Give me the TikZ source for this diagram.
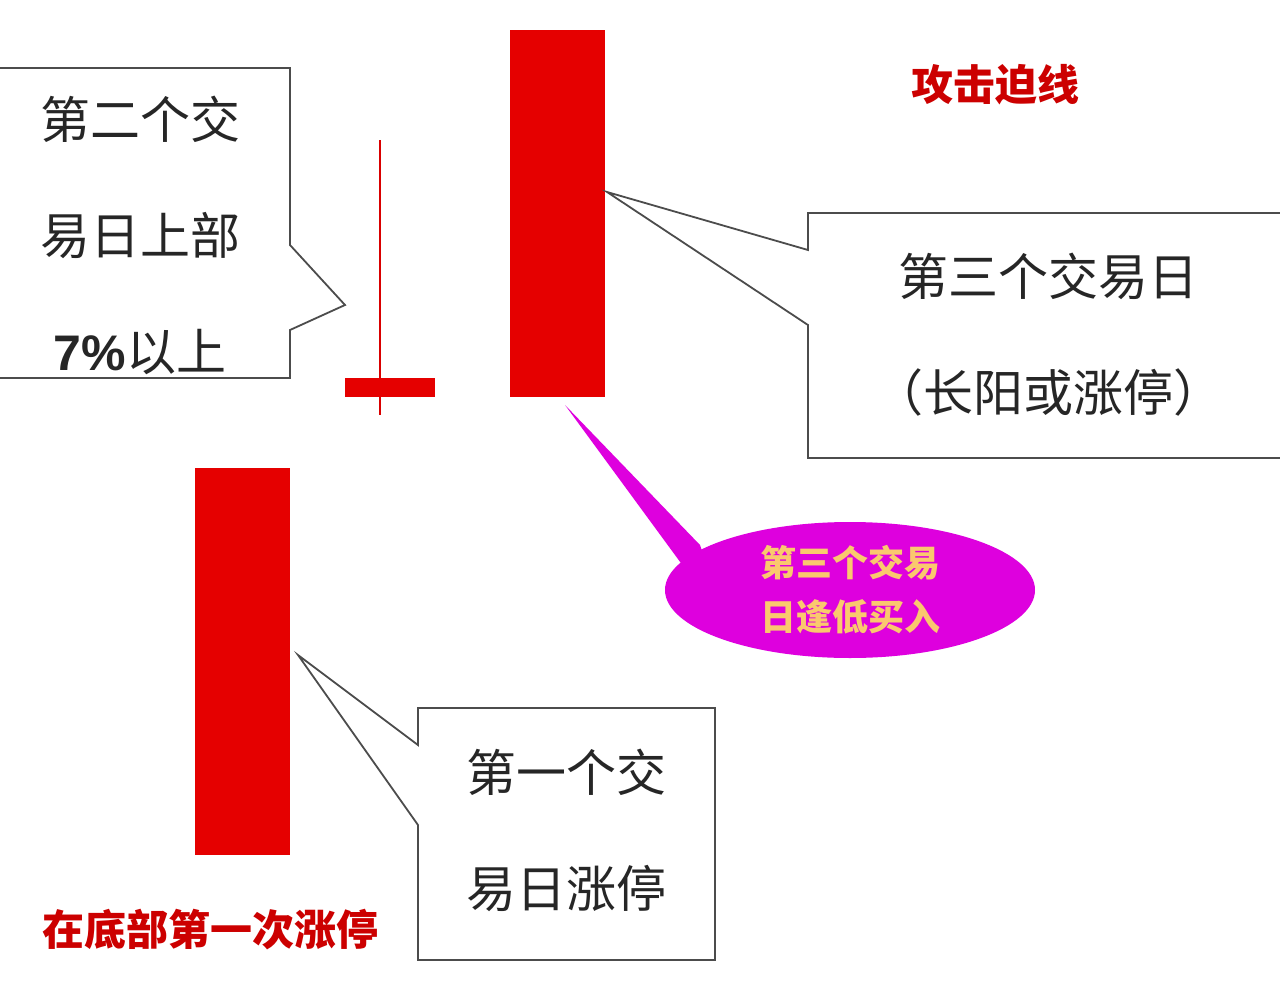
\documentclass[tikz,border=0pt]{standalone}
\usepackage{fontspec}
\usetikzlibrary{shapes.geometric}
\setmainfont{Noto Sans CJK SC}
\definecolor{bubc}{RGB}{222,0,222}
\definecolor{bubt}{RGB}{250,200,110}
\begin{document}
\begin{tikzpicture}[x=1pt,y=-1pt,
  candle/.style={fill=red!90!black, draw=none},
  callout/.style={draw=black!70, line width=1.8pt, fill=white},
  big/.style={font=\fontsize{50}{116}\selectfont, align=center, text=black!85},
  redlbl/.style={font=\fontsize{42}{44}\selectfont\bfseries, text=red!80!black}]
\useasboundingbox (0,0) rectangle (1280,982);
\fill[white] (0,0) rectangle (1280,982);
% candles
\fill[candle] (510,30) rectangle (605,397);
\fill[candle] (195,468) rectangle (290,855);
\draw[red!85!black, line width=1.5pt] (380,140) -- (380,415);
\fill[candle] (345,378) rectangle (435,397);
% left callout
\draw[callout] (0,68) -- (290,68) -- (290,245) -- (345,305) -- (290,330) -- (290,378) -- (0,378);
\node[big] (t2) at (140,235) {第二个交\\易日上部\\{\bfseries\fontspec{Liberation Sans}7\%}以上};
% right callout
\coordinate (tip3) at (607,192);
\draw[callout] (1280,213) -- (808,213) -- (808,250) -- (tip3) -- (808,325) -- (808,458) -- (1280,458);
\node[big] (t3) at (1048,335) {第三个交易日\\（长阳或涨停）};
% bottom callout
\coordinate (tip1) at (298,655);
\draw[callout] (418,708) -- (715,708) -- (715,960) -- (418,960) -- (418,825) -- (tip1) -- (418,745) -- cycle;
\node[big] (t1) at (566,830) {第一个交\\易日涨停};
% magenta bubble
\coordinate (tipb) at (565,405);
\fill[bubc] (tipb) -- (700,545) -- (730,630) -- cycle;
\node[ellipse, fill=bubc, minimum width=370, minimum height=136, inner sep=0pt, draw=none,
  font=\fontsize{36}{54}\selectfont\bfseries, text=bubt, align=center] (bub) at (850,590) {第三个交易\\日逢低买入};
% red labels
\node[redlbl] (atk) at (995,85) {攻击迫线};
\node[redlbl] (bot) at (210,930) {在底部第一次涨停};
\end{tikzpicture}
\end{document}
